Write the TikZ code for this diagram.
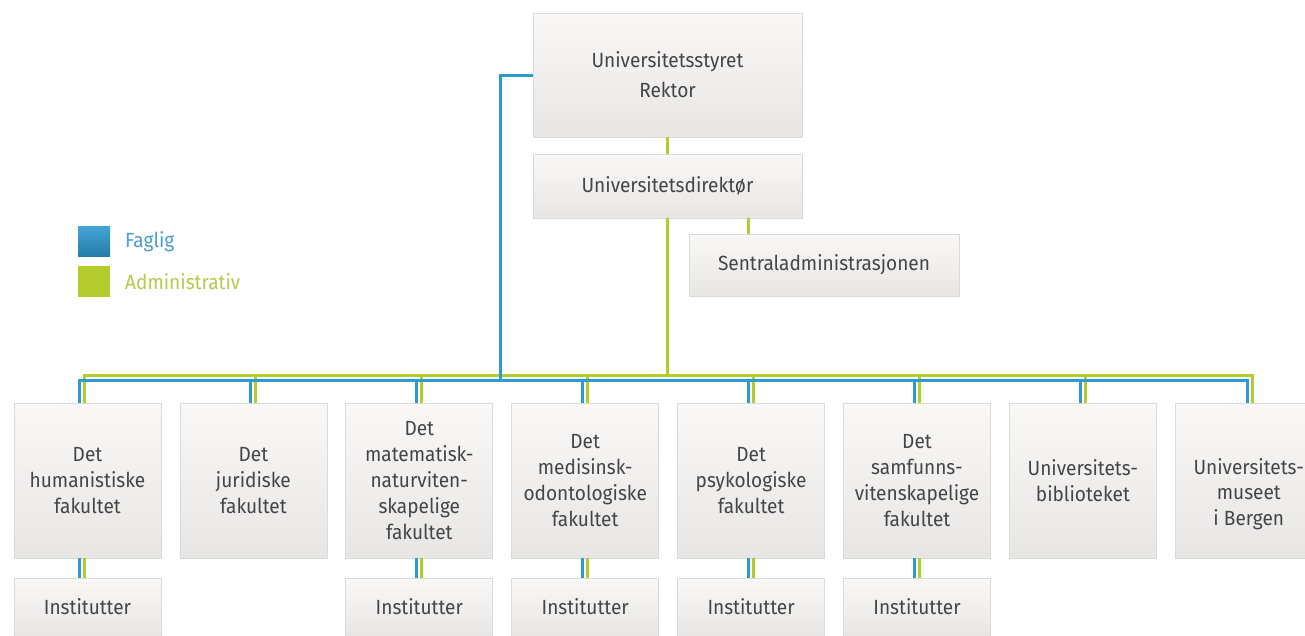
\documentclass[tikz,border=0pt]{standalone}
\usepackage{fontspec}
\setmainfont{Fira Sans}[FakeStretch=0.93]
\usetikzlibrary{calc}
\definecolor{blueline}{HTML}{2E9AD2}
\definecolor{greenline}{HTML}{B3CB2C}
\definecolor{boxtop}{HTML}{F9F8F7}
\definecolor{boxbot}{HTML}{E8E6E4}
\definecolor{boxline}{HTML}{DCDAD7}
\definecolor{txtgray}{HTML}{454545}
\definecolor{legblue}{HTML}{4A9ED0}
\definecolor{leggreen}{HTML}{B5C94A}
\tikzset{
  orgbox/.style={rectangle, draw=boxline, line width=0.8pt, top color=boxtop, bottom color=boxbot,
    text=txtgray, align=center, inner sep=0pt, font=\fontsize{20.5}{25.8}\selectfont},
  topbox/.style={orgbox, minimum width=269, minimum height=124, font=\fontsize{20.5}{30}\selectfont},
  midbox/.style={orgbox, minimum width=269, minimum height=64},
  senbox/.style={orgbox, minimum width=270, minimum height=62},
  facbox/.style={orgbox, minimum width=147, minimum height=155},
  instbox/.style={orgbox, minimum width=147, minimum height=58},
  plaintxt/.style={text=txtgray, align=center, inner sep=0pt, font=\fontsize{20.5}{25.8}\selectfont},
  faglig/.style={draw=blueline, line width=3pt},
  admin/.style={draw=greenline, line width=3pt},
  legtxt/.style={anchor=west, inner sep=0pt, font=\fontsize{20.5}{26}\selectfont},
}
\begin{document}
\begin{tikzpicture}[x=1pt,y=-1pt]
\useasboundingbox (0,0) rectangle (1305,635);
\clip (0,0) rectangle (1305,635);
\fill[white] (0,0) rectangle (1305,635);

% top boxes
\node[topbox] (rek) at (667.5,75) {Universitetsstyret\\Rektor};
\node[midbox] (dir) at (667.5,186) {Universitetsdirektør};
\node[senbox] (sen) at (824,265) {Sentraladministrasjonen};

% faculty boxes
\foreach \i/\t in {1/{Det\\humanistiske\\fakultet},
                   2/{Det\\juridiske\\fakultet},
                   3/{Det\\matematisk-\\naturviten-\\skapelige\\fakultet},
                   4/{Det\\medisinsk-\\odontologiske\\fakultet},
                   5/{Det\\psykologiske\\fakultet},
                   6/{Det\\samfunns-\\vitenskapelige\\fakultet},
                   7/{Universitets-\\biblioteket}}{
  \node[facbox] (f\i) at ({87.5+165.9*(\i-1)},480.5) {\t};
}
\node[facbox] (f8) at (1248.8,480.5) {};
\node[plaintxt] (f8t) at (1248.8,494) {Universitets-\\museet\\i Bergen};

% institutter
\foreach \i in {1,3,4,5,6}{
  \node[instbox] (i\i) at ({87.5+165.9*(\i-1)},607) {Institutter};
}

% bus coordinates
\coordinate (gbus) at (0,375);
\coordinate (bbus) at (0,380);
\coordinate (bx) at (500,0);
\coordinate (sx) at (748,0);
\coordinate (b1) at (79,0);
\coordinate (g1) at (84,0);
\coordinate (b8) at (1247,0);
\coordinate (g8) at (1252,0);

% administrative (green)
\draw[admin] (rek.south) -- (dir.north);
\draw[admin] (dir.south -| sx) -- (sen.north -| sx);
\draw[admin] (dir.south) -- (dir.south |- gbus);
\draw[admin] (f1.north -| g1) |- (gbus -| g8) -- (f8.north -| g8);
\foreach \i in {2,3,4,5,6,7}{
  \draw[admin] ([xshift=2.5pt]f\i.north) -- ([xshift=2.5pt]f\i.north |- gbus);
}

% faglig (blue)
\draw[faglig] (rek.west) -| (bbus -| bx);
\draw[faglig] (f1.north -| b1) |- (bbus -| b8) -- (f8.north -| b8);
\foreach \i in {2,3,4,5,6,7}{
  \draw[faglig] ([xshift=-2.5pt]f\i.north) -- ([xshift=-2.5pt]f\i.north |- bbus);
}

% faculty to institutter
\draw[faglig] (f1.south -| b1) -- (i1.north -| b1);
\draw[admin] (f1.south -| g1) -- (i1.north -| g1);
\foreach \i in {3,4,5,6}{
  \draw[faglig] ([xshift=-2.5pt]f\i.south) -- ([xshift=-2.5pt]i\i.north);
  \draw[admin] ([xshift=2.5pt]f\i.south) -- ([xshift=2.5pt]i\i.north);
}

% legend
\node[rectangle, minimum width=32, minimum height=30, inner sep=0pt, top color=blueline!90, bottom color=blueline!80!black] (lb) at (94,241.5) {};
\node[rectangle, minimum width=32, minimum height=31, inner sep=0pt, fill=greenline] (lg) at (94,281.5) {};
\node[legtxt, text=legblue] (lbt) at (125,241.5) {Faglig};
\node[legtxt, text=leggreen] (lgt) at (125,281.5) {Administrativ};
\end{tikzpicture}
\end{document}
